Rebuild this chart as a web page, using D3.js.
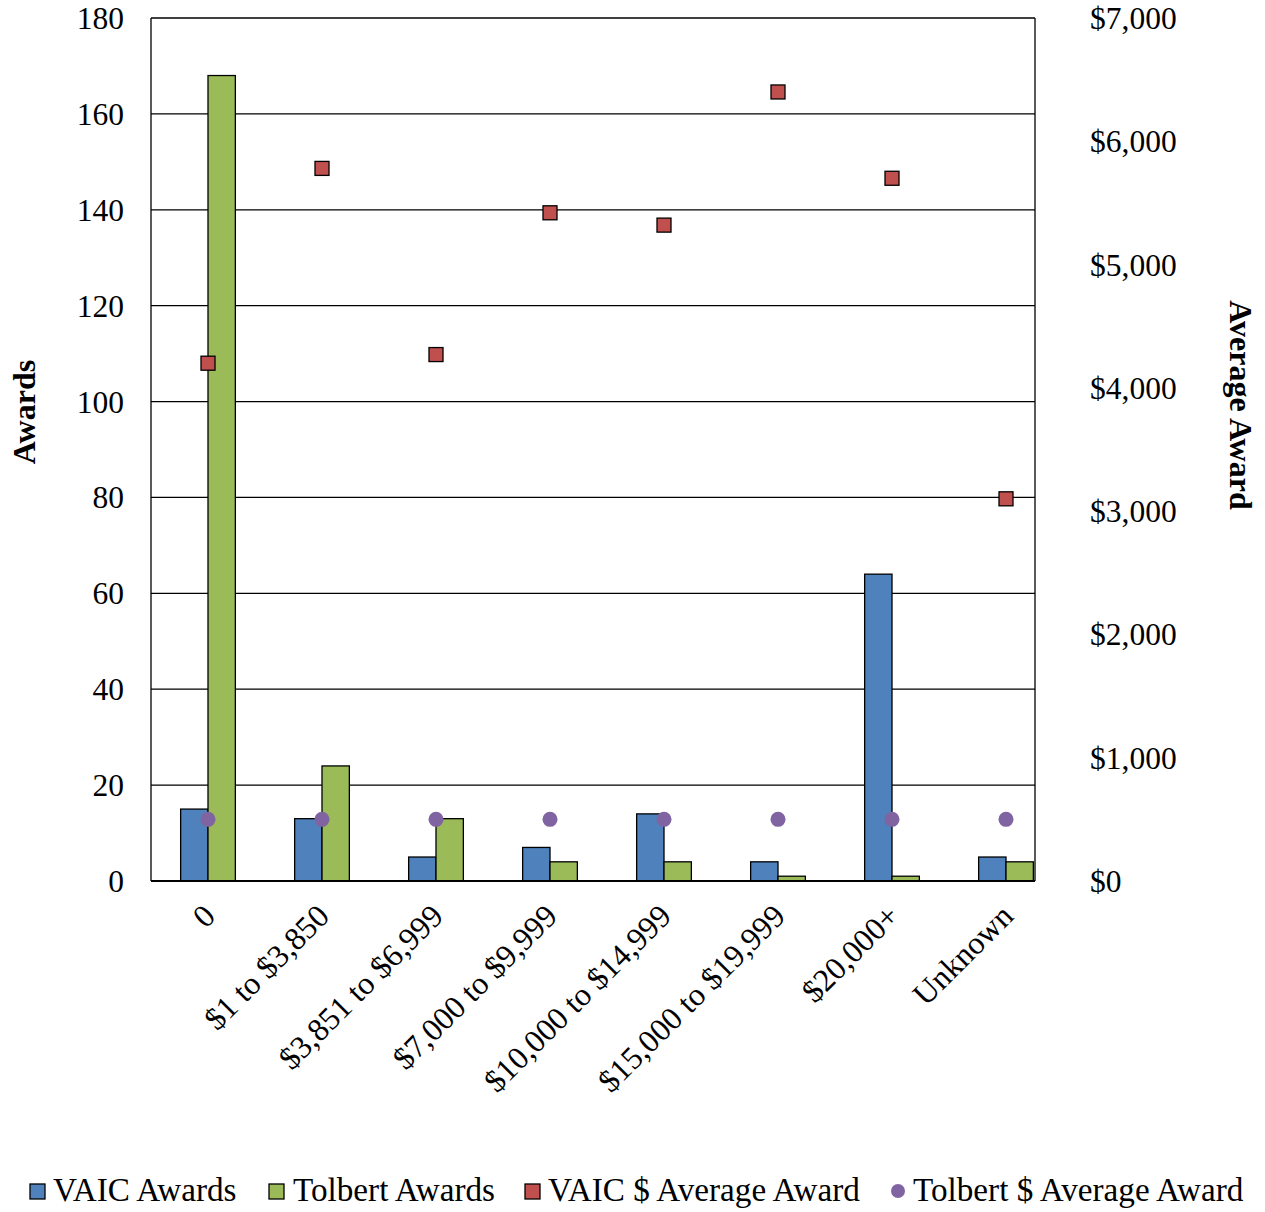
<!DOCTYPE html>
<html><head><meta charset="utf-8">
<script src="https://cdn.jsdelivr.net/npm/d3@7"></script>
<style>body{margin:0;background:#fff}svg{display:block}text{font-family:"Liberation Serif","Times New Roman",serif;fill:#000}</style>
</head><body>
<script>
const categories = ["0","$1 to $3,850","$3,851 to $6,999","$7,000 to $9,999","$10,000 to $14,999","$15,000 to $19,999","$20,000+","Unknown"];
const vaicAwards = [15,13,5,7,14,4,64,5];
const tolbertAwards = [168,24,13,4,4,1,1,4];
const vaicAvg = [4200,5780,4270,5420,5320,6400,5700,3100];
const tolbertAvg = [500,500,500,500,500,500,500,500];
const leftTicks = [0,20,40,60,80,100,120,140,160,180];
const rightTicks = [0,1000,2000,3000,4000,5000,6000,7000];

const W=1265,H=1212;
const m={l:151,r:1035,t:18,b:881};
const svg=d3.select("body").append("svg").attr("width",W).attr("height",H);

const step=114;
const xc=d3.scaleBand().domain(categories).range([m.l,m.l+step*categories.length]);
const x=d3.scaleBand().domain(categories).range([m.l,m.l+step*categories.length]).paddingInner(0.52).paddingOuter(0.26);
const xs=d3.scaleBand().domain(["v","t"]).range([0,x.bandwidth()]);
const yL=d3.scaleLinear().domain([0,180]).range([m.b,m.t]);
const yR=d3.scaleLinear().domain([0,7000]).range([m.b,m.t]);

// gridlines
svg.append("g").selectAll("line").data(leftTicks.filter(d=>d>0)).join("line")
 .attr("x1",m.l).attr("x2",m.r).attr("y1",d=>yL(d)).attr("y2",d=>yL(d))
 .attr("stroke","#000").attr("stroke-width",1.3);
// frame
svg.append("line").attr("x1",m.l).attr("x2",m.l).attr("y1",m.t).attr("y2",m.b).attr("stroke","#000").attr("stroke-width",1.3);
svg.append("line").attr("x1",m.r).attr("x2",m.r).attr("y1",m.t).attr("y2",m.b).attr("stroke","#000").attr("stroke-width",1.3);

// bars
const g=svg.append("g");
g.selectAll("rect.v").data(categories).join("rect").attr("class","v")
 .attr("x",(d)=>x(d)+xs("v")).attr("width",xs.bandwidth())
 .attr("y",(d,i)=>yL(vaicAwards[i])).attr("height",(d,i)=>m.b-yL(vaicAwards[i]))
 .attr("fill","#4F81BD").attr("stroke","#000").attr("stroke-width",1.3);
g.selectAll("rect.t").data(categories).join("rect").attr("class","t")
 .attr("x",(d)=>x(d)+xs("t")).attr("width",xs.bandwidth())
 .attr("y",(d,i)=>yL(tolbertAwards[i])).attr("height",(d,i)=>m.b-yL(tolbertAwards[i]))
 .attr("fill","#9BBB59").attr("stroke","#000").attr("stroke-width",1.3);

// bottom axis line
svg.append("line").attr("x1",m.l).attr("x2",m.r).attr("y1",m.b).attr("y2",m.b).attr("stroke","#000").attr("stroke-width",2);

// markers
const cx=d=>xc(d)+xc.bandwidth()/2;
svg.append("g").selectAll("rect").data(categories).join("rect")
 .attr("x",d=>cx(d)-7).attr("y",(d,i)=>yR(vaicAvg[i])-7).attr("width",14).attr("height",14)
 .attr("fill","#C0504D").attr("stroke","#000").attr("stroke-width",1.3);
svg.append("g").selectAll("circle").data(categories).join("circle")
 .attr("cx",cx).attr("cy",(d,i)=>yR(tolbertAvg[i])).attr("r",7.5).attr("fill","#8064A2");

// left ticks
svg.append("g").selectAll("text").data(leftTicks).join("text")
 .attr("x",124).attr("y",d=>yL(d)).attr("dy","0.35em").attr("text-anchor","end")
 .attr("font-size",31.5).text(d=>d);
// right ticks
const fmt=d3.format(",");
svg.append("g").selectAll("text").data(rightTicks).join("text")
 .attr("x",1090).attr("y",d=>yR(d)).attr("dy","0.35em").attr("text-anchor","start")
 .attr("font-size",31.5).text(d=>"$"+fmt(d));
// x labels
svg.append("g").selectAll("text").data(categories).join("text")
 .attr("transform",d=>`translate(${cx(d)+9},${m.b+37}) rotate(-45)`)
 .attr("text-anchor","end").attr("font-size",32).text(d=>d);

// axis titles
svg.append("text").attr("transform","translate(35,412) rotate(-90)").attr("text-anchor","middle")
 .attr("font-size",32).attr("font-weight","bold").text("Awards");
svg.append("text").attr("transform","translate(1230,405) rotate(90)").attr("text-anchor","middle")
 .attr("font-size",32).attr("font-weight","bold").text("Average Award");

// legend
const lg=svg.append("g");
const leg=[
 {t:"VAIC Awards",type:"sq",c:"#4F81BD",x:30,tx:53},
 {t:"Tolbert Awards",type:"sq",c:"#9BBB59",x:269,tx:293},
 {t:"VAIC $ Average Award",type:"sq",c:"#C0504D",x:525,tx:548},
 {t:"Tolbert $ Average Award",type:"ci",c:"#8064A2",x:891,tx:913}
];
leg.forEach(l=>{
 if(l.type==="sq") lg.append("rect").attr("x",l.x).attr("y",1184).attr("width",15).attr("height",15).attr("fill",l.c).attr("stroke","#000").attr("stroke-width",1.3);
 else lg.append("circle").attr("cx",l.x+7).attr("cy",1191).attr("r",7).attr("fill",l.c);
 lg.append("text").attr("x",l.tx).attr("y",1201).attr("font-size",33.2).text(l.t);
});
</script>
</body></html>
